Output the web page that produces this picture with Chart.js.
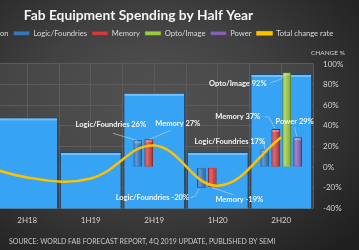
<!DOCTYPE html>
<html><head><meta charset="utf-8">
<script src="https://cdn.jsdelivr.net/npm/chart.js@4.4.0/dist/chart.umd.min.js"></script>
<style>
html,body{margin:0;padding:0;}
body{width:359px;height:250px;overflow:hidden;position:relative;
background:radial-gradient(ellipse 75% 80% at 42% 42%, #555555 0%, #414141 45%, #2b2b2b 80%, #1f1f1f 100%);}
#wrap{position:absolute;left:-99px;top:0;width:458px;height:250px;}
</style></head>
<body><div id="wrap"><canvas id="c" width="458" height="250"></canvas></div>
<script>
// ---- data ----
const categories = ['1H18', '2H18', '1H19', '2H19', '1H20', '2H20'];
const totalSpending = [23.7, 21.3, 18.9, 23.0, 18.9, 24.3];      // US$ billion, hidden left axis
const logicFoundries = [null, null, null, 26, -20, 17];
const memory = [null, null, null, 27, -19, 37];
const optoImage = [null, null, null, null, null, 92];
const power = [null, null, null, null, null, 29];
const totalChangeRate = [8, -10, -11, 21, -18, 29];
const changeTicks = [-40, -20, 0, 20, 40, 60, 80, 100];
const titleText = 'Fab Equipment Spending by Half Year';
const axisNote = 'CHANGE %';
const sourceText = 'SOURCE: WORLD FAB FORECAST REPORT, 4Q 2019 UPDATE, PUBLISHED BY SEMI';

const FONT = 'Lato';
const GRID = '#5b5b5b';

// label placement (offsets from the bar end, in px) — styling only
const labelPlacement = {
  '1-3': {dx: -27, dy: -16, line: [[-25, -7], [-1, 0]]},
  '2-3': {dx: 29, dy: -16, line: [[1, 0], [22, -9]]},
  '1-5': {dx: -35, dy: -8, line: [[-1, -8], [0, 0]]},
  '2-5': {dx: -38, dy: -12, line: [[-11, -12], [-7, -12], [-1, -1]]},
  '3-5': {dx: -49, dy: 11, line: [[-17, 11], [-6, 7], [-1, 1]]},
  '4-5': {dx: -3, dy: -16, line: [[-3, -10], [-1, -1]]},
  '1-4': {dx: -49, dy: 10, line: [[-11, 10], [-6, 8], [-2, 1]]},
  '2-4': {dx: 27, dy: 13, line: [[0, 1], [21, 8]]}
};

const extras = {
  id: 'extras',
  beforeDraw(chart) {
    const {ctx, chartArea: a} = chart;
    ctx.save();
    ctx.fillStyle = 'rgba(78,78,78,0.55)';
    ctx.fillRect(a.left, a.top, a.right - a.left, a.bottom - a.top);
    ctx.restore();
  },
  afterDatasetDraw(chart, args) {
    const {ctx} = chart;
    const meta = args.meta;
    if (meta.type !== 'bar') return;
    ctx.save();
    meta.data.forEach(el => {
      if (el.skip || el.y == null || isNaN(el.y)) return;
      const w = el.width, left = el.x - w / 2;
      const top = Math.min(el.y, el.base);
      const h = Math.abs(el.base - el.y);
      if (!h) return;
      if (args.index === 0) {
        ctx.fillStyle = 'rgba(190,225,255,0.45)';
        ctx.fillRect(left + 1, el.y + 1, w - 2, 2);
      } else {
        const g = ctx.createLinearGradient(left, 0, left + w, 0);
        g.addColorStop(0, 'rgba(255,255,255,0.05)');
        g.addColorStop(0.35, 'rgba(255,255,255,0.22)');
        g.addColorStop(1, 'rgba(0,0,0,0.18)');
        ctx.fillStyle = g;
        ctx.fillRect(left + 1, top + 1, w - 2, h - 2);
        if (el.y < el.base) {
          ctx.fillStyle = 'rgba(255,255,255,0.3)';
          ctx.fillRect(left + 1, el.y + 1, w - 2, 2);
        }
      }
    });
    ctx.restore();
  },
  afterDraw(chart) {
    const {ctx} = chart;
    ctx.save();
    ctx.font = 'bold 7.5px ' + FONT;
    ctx.textAlign = 'center';
    ctx.textBaseline = 'middle';
    for (let d = 1; d <= 4; d++) {
      const meta = chart.getDatasetMeta(d);
      const ds = chart.data.datasets[d];
      ds.data.forEach((v, i) => {
        if (v === null) return;
        const el = meta.data[i];
        const p = labelPlacement[d + '-' + i];
        if (!p) return;
        const ax = el.x, ay = el.y;
        ctx.strokeStyle = 'rgba(220,220,220,0.8)';
        ctx.lineWidth = 0.7;
        ctx.beginPath();
        p.line.forEach((pt, k) => {
          if (k === 0) ctx.moveTo(ax + pt[0], ay + pt[1]); else ctx.lineTo(ax + pt[0], ay + pt[1]);
        });
        ctx.stroke();
        ctx.fillStyle = '#f4f4f4';
        ctx.fillText(ds.label + ' ' + v + '%', ax + p.dx, ay + p.dy);
      });
    }
    ctx.font = '7px ' + FONT;
    ctx.textAlign = 'left';
    ctx.fillStyle = '#c9c9c9';
    ctx.fillText(sourceText, 108, 242);
    ctx.restore();
  }
};

const smallBar = (label, data, bg, border) => ({
  type: 'bar', label, data, backgroundColor: bg, borderColor: border, borderWidth: 1,
  xAxisID: 'x', yAxisID: 'y', categoryPercentage: 0.69, barPercentage: 0.8, order: 5
});

new Chart(document.getElementById('c'), {
  data: {
    labels: categories,
    datasets: [
      {type: 'bar', label: 'Total $ Billion', data: totalSpending, backgroundColor: '#36a3f4',
        borderColor: '#1d4c76', borderWidth: 1, xAxisID: 'x', yAxisID: 'yTot', grouped: false,
        categoryPercentage: 0.97, barPercentage: 1, order: 10},
      smallBar('Logic/Foundries', logicFoundries, '#3479c0', '#1e4a7a'),
      smallBar('Memory', memory, '#d63b3b', '#8a1f1f'),
      smallBar('Opto/Image', optoImage, '#9ccb3e', '#5f7f1c'),
      smallBar('Power', power, '#8562b0', '#4f3670'),
      {type: 'line', label: 'Total change rate', data: totalChangeRate, borderColor: '#ffc000',
        backgroundColor: '#ffc000', borderWidth: 2.5, tension: 0.4, pointRadius: 0,
        xAxisID: 'x', yAxisID: 'y', order: 1}
    ]
  },
  options: {
    responsive: false,
    animation: false,
    layout: {padding: {top: 7, left: 31, right: 14, bottom: 18}},
    scales: {
      x: {type: 'category', position: 'bottom', offset: true,
        grid: {offset: false, color: GRID, drawTicks: false},
        border: {display: false},
        ticks: {color: '#d2d2d2', font: {family: FONT, size: 8}, padding: 7}},
      xTot: {type: 'category', position: 'bottom', offset: true,
        grid: {offset: true, color: GRID, drawTicks: false},
        border: {display: false}, ticks: {display: false}},
      y: {type: 'linear', position: 'right', min: -40, max: 100,
        afterBuildTicks: s => { s.ticks = changeTicks.map(v => ({value: v})); },
        afterFit: s => { s.width = 32; },
        grid: {color: GRID, drawTicks: false}, border: {display: false},
        ticks: {color: '#d2d2d2', font: {family: FONT, size: 8}, padding: 10, callback: v => v + '%'}},
      yTot: {type: 'linear', display: false, min: 15, max: 25}
    },
    plugins: {
      title: {display: true, text: titleText, color: '#f4f4f4',
        font: {family: FONT, size: 13.8, weight: 'bold'}, padding: {top: 0, bottom: 1}},
      subtitle: {display: true, text: axisNote, align: 'end', weight: 500, color: '#d2d2d2',
        font: {family: FONT, size: 6.5}, padding: {top: 2, bottom: 7}},
      legend: {labels: {color: '#d9d9d9', font: {family: FONT, size: 7.6}, boxWidth: 16, boxHeight: 4, padding: 5,
        sort: (a, b) => a.datasetIndex - b.datasetIndex,
        generateLabels: ch => Chart.defaults.plugins.legend.labels.generateLabels(ch).map(l => Object.assign(l, {lineWidth: 0.5}))}},
      tooltip: {enabled: false}
    }
  },
  plugins: [extras]
});
</script>
</body></html>
